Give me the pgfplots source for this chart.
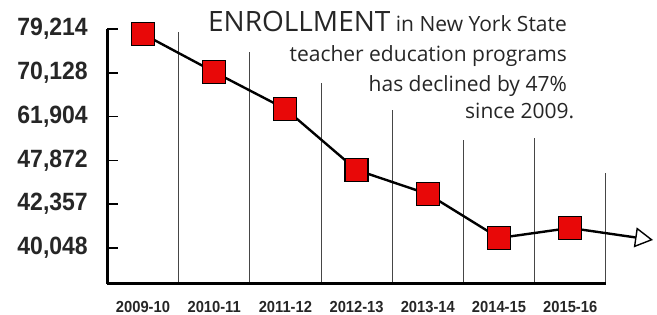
\documentclass[border=0pt]{standalone}
\usepackage{pgfplots}
\pgfplotsset{compat=1.18}
\usepackage{fontspec}
\setmainfont{Open Sans}
\newfontfamily\tickfont{Liberation Sans}[FakeStretch=0.92]
\usetikzlibrary{arrows.meta}
\definecolor{mkred}{RGB}{232,8,8}
\definecolor{gridc}{RGB}{70,70,70}
\begin{document}
\begin{tikzpicture}
\begin{axis}[
  width=657pt, height=315pt, scale only axis,
  xmin=-2.008, xmax=7.219, ymin=-1.530, ymax=5.662,
  axis line style={draw=none},
  tick style={draw=none},
  major tick length=0pt,
  clip=false,
  xtick={0,1,2,3,4,5,6},
  xticklabels={2009-10,2010-11,2011-12,2012-13,2013-14,2014-15,2015-16},
  ytick={0,1,2,3,4,5},
  yticklabels={{40,048},{42,357},{47,872},{61,904},{70,128},{79,214}},
  xticklabel style={anchor=base, yshift=2pt, inner sep=0pt, font=\tickfont\bfseries\fontsize{16}{16}\selectfont, text=black!85},
  yticklabel style={anchor=east, xshift=88pt, inner sep=0pt, font=\tickfont\bfseries\fontsize{25}{25}\selectfont, text=black!85},
]
% grid lines (hand-drawn, varying heights)
\draw[gridc, line width=0.8pt] (axis cs:0.5,-0.822) -- (axis cs:0.5,4.93);
\draw[gridc, line width=0.8pt] (axis cs:1.5,-0.822) -- (axis cs:1.5,4.475);
\draw[gridc, line width=0.8pt] (axis cs:2.5,-0.822) -- (axis cs:2.5,3.767);
\draw[gridc, line width=0.8pt] (axis cs:3.5,-0.822) -- (axis cs:3.5,3.151);
\draw[gridc, line width=0.8pt] (axis cs:4.5,-0.822) -- (axis cs:4.5,2.466);
\draw[gridc, line width=0.8pt] (axis cs:5.5,-0.822) -- (axis cs:5.5,2.511);
\draw[gridc, line width=0.8pt] (axis cs:6.5,-0.822) -- (axis cs:6.5,1.712);
% axes
\draw[black, line width=3pt] (axis cs:-0.5,-0.822) -- (axis cs:6.5,-0.822);
\draw[black, line width=2.6pt] (axis cs:-0.5,-0.822) -- (axis cs:-0.5,5);
\draw[black, line width=1.5pt] (axis cs:-0.5,0) -- (axis cs:-0.345,0);
\draw[black, line width=1.5pt] (axis cs:-0.5,1) -- (axis cs:-0.345,1);
\draw[black, line width=1.5pt] (axis cs:-0.5,2) -- (axis cs:-0.345,2);
\draw[black, line width=1.5pt] (axis cs:-0.5,3) -- (axis cs:-0.345,3);
\draw[black, line width=1.5pt] (axis cs:-0.5,4) -- (axis cs:-0.345,4);
\draw[black, line width=1.5pt] (axis cs:-0.5,5) -- (axis cs:-0.345,5);
% trailing arrow
\addplot[black, line width=2.4pt, -{Triangle[open, length=18pt, width=20pt, line width=1.4pt]}, forget plot]
  coordinates {(6,0.457) (7.163,0.183)};
% data
\addplot[black, line width=2.4pt, mark=square*, mark size=11.5pt,
  mark options={fill=mkred, draw=black, line width=1.2pt}]
  coordinates {(0,4.886) (1,4.018) (2,3.174) (3,1.781) (4,1.233) (5,0.228) (6,0.457)};
% title
\node[anchor=base east, inner sep=0pt, font=\fontsize{21}{21}\selectfont, text=black!85]
  at (axis cs:5.955,4.932) {{\fontsize{28}{28}\selectfont ENROLLMENT} in New York State};
\node[anchor=base east, inner sep=0pt, font=\fontsize{21}{21}\selectfont, text=black!85]
  at (axis cs:5.955,4.247) {teacher education programs};
\node[anchor=base east, inner sep=0pt, font=\fontsize{21}{21}\selectfont, text=black!85]
  at (axis cs:5.955,3.584) {has declined by 47\%};
\node[anchor=base east, inner sep=0pt, font=\fontsize{21}{21}\selectfont, text=black!85]
  at (axis cs:6.06,2.945) {since 2009.};
\end{axis}
\end{tikzpicture}
\end{document}
